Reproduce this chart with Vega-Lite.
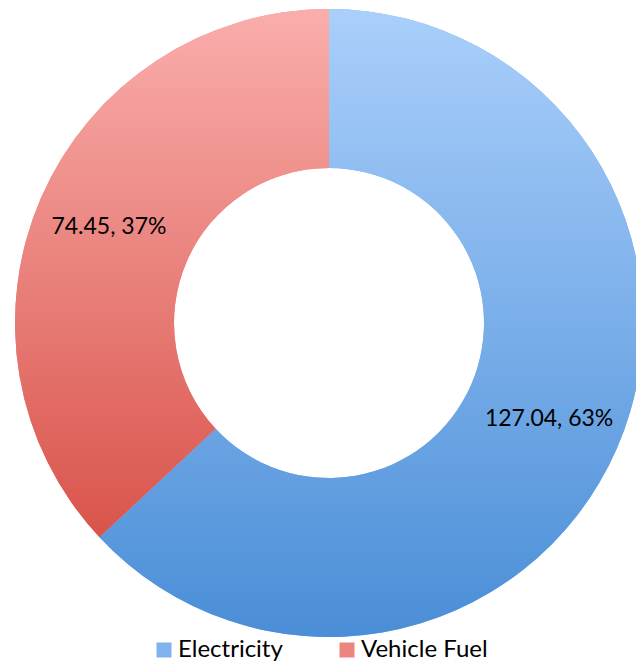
{
  "$schema": "https://vega.github.io/schema/vega-lite/v6.json",
  "width": 658,
  "height": 646,
  "padding": {"left": 0, "top": 0, "right": 0, "bottom": 20},
  "autosize": {"type": "none"},
  "background": "white",
  "config": {"view": {"stroke": null}, "font": "Lato"},
  "data": {
    "values": [
      {"category": "Electricity", "value": 127.04, "order": 1, "label": "127.04, 63%"},
      {"category": "Vehicle Fuel", "value": 74.45, "order": 2, "label": "74.45, 37%"}
    ]
  },
  "encoding": {
    "theta": {"field": "value", "type": "quantitative", "stack": true},
    "order": {"field": "order", "type": "quantitative"}
  },
  "layer": [
    {
      "mark": {"type": "arc", "outerRadius": 314, "innerRadius": 155},
      "encoding": {
        "color": {
          "field": "category",
          "type": "nominal",
          "scale": {"domain": ["Electricity", "Vehicle Fuel"], "range": ["#80b2ee", "#ee8480"]},
          "legend": {
            "title": null,
            "orient": "none",
            "legendX": 152,
            "legendY": 638,
            "direction": "horizontal",
            "symbolType": "square",
            "symbolSize": 225,
            "symbolStrokeWidth": 0,
            "labelFontSize": 24,
            "labelFont": "Lato",
            "labelColor": "#000000",
            "columnPadding": 52,
            "labelOffset": 2
          }
        }
      }
    },
    {
      "mark": {"type": "arc", "outerRadius": 314, "innerRadius": 155},
      "encoding": {
        "color": {
          "condition": {
            "test": "datum.category === 'Electricity'",
            "value": {
              "gradient": "linear", "x1": 0, "y1": 0, "x2": 0, "y2": 1,
              "stops": [{"offset": 0, "color": "#aacffb"}, {"offset": 1, "color": "#4a8ed7"}]
            }
          },
          "value": {
            "gradient": "linear", "x1": 0, "y1": 0, "x2": 0, "y2": 1,
            "stops": [{"offset": 0, "color": "#faaeac"}, {"offset": 1, "color": "#d9544b"}]
          }
        }
      }
    },
    {
      "mark": {"type": "text", "radius": 240, "fontSize": 23, "font": "Lato", "color": "#000000"},
      "encoding": {
        "text": {"field": "label", "type": "nominal"}
      }
    }
  ]
}
